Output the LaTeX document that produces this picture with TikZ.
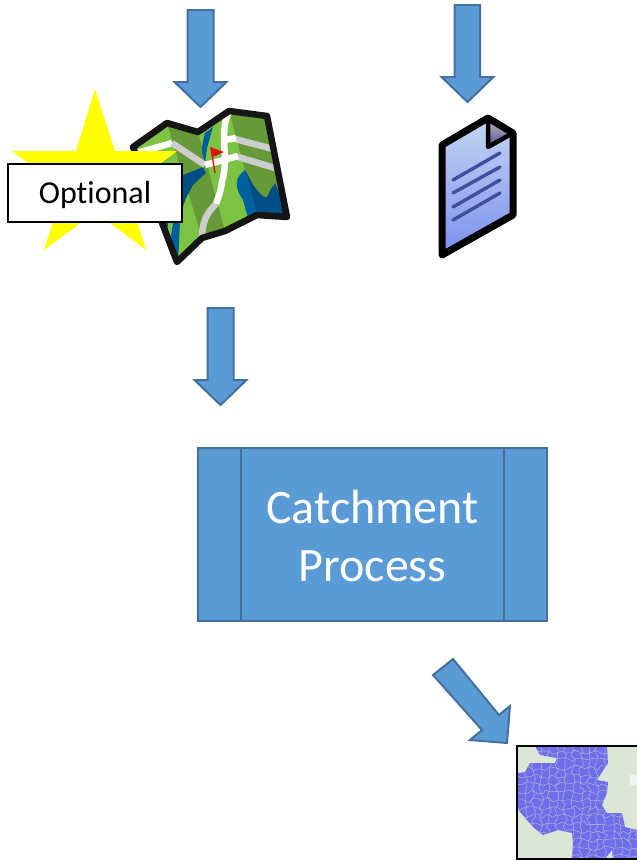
\documentclass[tikz,border=0pt]{standalone}
\usepackage{fontspec}
\usetikzlibrary{decorations.pathmorphing}
\setmainfont[Ligatures=NoCommon]{Carlito}
\definecolor{arrowblue}{HTML}{5B9BD5}
\definecolor{arrowedge}{HTML}{41719C}
\definecolor{mapblack}{HTML}{151515}
\definecolor{lgreen}{HTML}{7DC242}
\definecolor{dgreen}{HTML}{669A38}
\definecolor{lblue}{HTML}{00609F}
\definecolor{dblue}{HTML}{004F86}
\definecolor{road}{HTML}{CDCDCD}
\definecolor{docline}{HTML}{3F4F9F}
\definecolor{catch}{HTML}{6E6EEA}
\definecolor{ridgegray}{HTML}{A9A9D6}
\definecolor{basemap}{HTML}{DDE6D6}
\definecolor{staryellow}{HTML}{FFFF00}
\definecolor{flagred}{HTML}{E01010}
\definecolor{doctop}{HTML}{C3D6F2}
\definecolor{docbot}{HTML}{7C8FEE}
\tikzset{
  blockarrow/.style={fill=arrowblue,draw=arrowedge,line width=2pt,line join=miter},
  procbox/.style={fill=arrowblue,draw=arrowedge,line width=2pt,minimum width=349pt,minimum height=173pt,inner sep=0pt},
  proctext/.style={text=white,align=center,inner sep=0pt,font=\fontsize{48}{58}\selectfont},
  optbox/.style={fill=white,draw=black,line width=1.5pt,minimum width=174pt,minimum height=58pt,inner sep=0pt,
     text height=20pt,text depth=0pt,font=\fontsize{32}{36}\selectfont},
  roadw/.style={draw=white,line width=6.5pt},
  roadg/.style={draw=road,line width=6.5pt},
  docl/.style={draw=docline,line width=3.4pt,line cap=round},
  ridge/.style={draw=ridgegray,line width=.6pt,decorate,decoration={random steps,segment length=5pt,amplitude=2.5pt}}
}
\pgfmathsetseed{4242}
\begin{document}
\begin{tikzpicture}[x=1pt,y=-1pt]
\useasboundingbox (0,0) rectangle (637,860);
% block arrows
\draw[blockarrow] (187.5,10) -- (213.5,10) -- (213.5,82) -- (226.5,82) -- (200.5,107) -- (174.5,82) -- (187.5,82) -- cycle;
\draw[blockarrow] (454.5,5) -- (480,5) -- (480,77) -- (493.5,77) -- (467.5,102) -- (441.5,77) -- (454.5,77) -- cycle;
\draw[blockarrow] (207.5,308) -- (233.5,308) -- (233.5,380) -- (246.5,380) -- (220.5,405) -- (194.5,380) -- (207.5,380) -- cycle;
\draw[blockarrow] (453,659) -- (433,675) -- (482,730) -- (470,740) -- (507,743) -- (510,706) -- (499,715) -- cycle;
% map
\begin{scope}
\clip (133,147) -- (167,123) -- (198,132) -- (229,111) -- (267,116) -- (287,217) -- (257,215) -- (225,231) -- (202,238) -- (177,262) -- cycle;
\fill[lgreen] (120,100) rectangle (300,270);
\fill[dgreen] (167,123) -- (198,132) -- (225,231) -- (202,238) -- cycle;
\fill[dgreen] (229,111) -- (267,116) -- (287,217) -- (257,215) -- cycle;
% water
\fill[dblue] (175,177) -- (183,175) -- (203,167) -- (206,173) -- (193,185) -- (186,198) -- (180,215) -- (175,215) -- cycle;
\fill[lblue] (173,222) -- (180,222) -- (178,262) -- (170,242) -- cycle;
\fill[lgreen] (173,222) -- (168,237) -- (170,242) -- cycle;
\fill[dblue] (160,223) -- (168,222) -- (167,238) -- (165,245) -- cycle;
\fill[lblue] (213,127) -- (205,133) .. controls (203,140) and (202,146) .. (202,152) -- (205,163) -- (207,148) -- cycle;
\fill[lblue] (245,170) .. controls (240,174) and (237,178) .. (237,182) .. controls (236,190) and (240,195) .. (243,200) -- (248,218) -- (257,215) -- cycle;
\fill[dblue] (245,170) .. controls (250,178) and (252,185) .. (258,191) .. controls (262,197) and (267,199) .. (268,196) .. controls (270,188) and (274,186) .. (275,183) -- (290,220) -- (257,215) -- cycle;
% roads
\draw[roadw] (130,155) -- (172,143);
\draw[roadg] (172,143) -- (205,165);
\draw[roadg] (238,157) -- (275,168);
\draw[roadg] (235,139) -- (273,149);
\draw[roadw] (205,165) -- (238,156);
\draw[roadw] (225,140) -- (236,138);
\draw[roadw] (231,108) .. controls (224,120) and (223,130) .. (225,158) .. controls (225,170) and (223,178) .. (222,182) .. controls (221,190) and (219,196) .. (216,204);
\draw[roadg] (216,204) .. controls (206,214) and (202,222) .. (202,240);
\end{scope}
\draw[mapblack,line width=6.5pt,line join=round] (133,147) -- (167,123) -- (198,132) -- (229,111) -- (267,116) -- (287,217) -- (257,215) -- (225,231) -- (202,238) -- (177,262) -- cycle;
% flag
\draw[flagred,line width=1.4pt] (211,148) -- (215,173);
\fill[flagred] (210,147) -- (224,152) -- (213,157) -- cycle;
% star and label
\fill[staryellow] (95,89) -- (115,151) -- (177,151) -- (127,189) -- (146,250) -- (95.5,212) -- (44,250) -- (63.3,189) -- (12,151) -- (76,151) -- cycle;
\node[optbox] (optional) at (95,193) {Optional};
% document
\shade[top color=doctop,bottom color=docbot] (442,145) -- (488,118) -- (513,133) -- (513,215) -- (442,255) -- cycle;
\shade[top color=gray!55!white,bottom color=blue!45!black!70!white] (488,120) -- (512,133) -- (488,147) -- cycle;
\draw[black,line width=7pt,line join=round] (442,145) -- (488,118) -- (513,133) -- (513,215) -- (442,255) -- cycle;
\draw[black,line width=4.5pt,line join=round] (488,118) -- (488,147) -- (513,133);
\draw[docl] (453,180) -- (500,153);
\draw[docl] (453,193) -- (500,167);
\draw[docl] (453,207) -- (500,180);
\draw[docl] (453,220) -- (500,193);
% process box
\node[procbox] (proc) at (372.5,534.5) {};
\node[proctext] (proctext) at (372.5,536.5) {Catchment\\Process};
\draw[arrowedge,line width=2pt] (proc.south west) ++(44,0) -- ++(0,-173);
\draw[arrowedge,line width=2pt] (proc.south east) ++(-44,0) -- ++(0,-173);
% catchment picture
\begin{scope}
\clip (517,746) rectangle (637,860);
\fill[basemap] (517,746) rectangle (637,860);
\fill[white!60!basemap] (630,775) rectangle (637,785);
\begin{scope}
\clip (535,746) -- (607,746) -- (608,763) -- (597,780) -- (608,782) -- (607,793) -- (602,805) -- (607,813) -- (622,813) -- (625,827) -- (637,830) -- (637,860) -- (613,860) -- (612,850) -- (604,860) -- (572,860) -- (573,843) -- (572,833) -- (558,830) -- (543,835) -- (533,827) -- (520,812) -- (517,806) -- (517,772) -- (519,773) -- (525,772) -- (530,763) -- (555,763) -- (557,758) -- (540,755) -- cycle;
\fill[catch] (517,746) rectangle (637,860);
\foreach \yy in {752,760,...,856} {\draw[ridge] (517,\yy) -- (637,\yy);}
\foreach \xx in {525,533,...,637} {\draw[ridge] (\xx,746) -- (\xx,860);}
\end{scope}
\end{scope}
\draw[black,line width=1.5pt] (640,746) -- (517,746) -- (517,859) -- (640,859);
\end{tikzpicture}
\end{document}
